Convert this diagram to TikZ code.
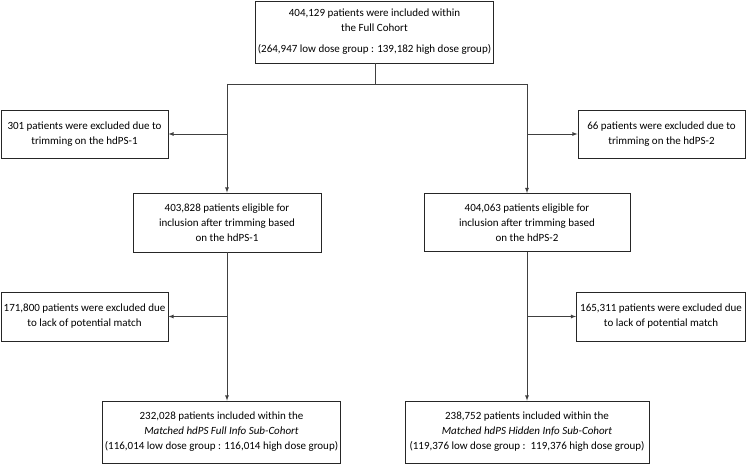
\documentclass[tikz,border=0pt]{standalone}
\usepackage{fontspec}
\setmainfont{Carlito}
\usetikzlibrary{arrows}

\tikzset{
	flowbox/.style={draw=black!85,line width=0.8pt,align=center,inner sep=2pt,
		font=\fontsize{11}{15}\selectfont},
	flowline/.style={draw=black!75,line width=0.8pt},
	flowarrow/.style={flowline,-latex}
}

\begin{document}
\begin{tikzpicture}[x=1pt,y=-1pt]
	\useasboundingbox (0,0) rectangle (746,465);

	% boxes
	\node[flowbox,minimum width=229pt,minimum height=62pt] (full) at (374.5,32)
		{404,129 patients were included within\\ the Full Cohort\\[6pt]
		(264,947 low dose group : 139,182 high dose group)};

	\node[flowbox,minimum width=167pt,minimum height=48pt] (trim1) at (84.5,134)
		{301 patients were excluded due to\\ trimming on the hdPS-1};
	\node[flowbox,minimum width=167pt,minimum height=48pt] (trim2) at (661.5,134)
		{66 patients were excluded due to\\ trimming on the hdPS-2};

	\node[flowbox,minimum width=188pt,minimum height=59pt] (elig1) at (227,222.5)
		{403,828 patients eligible for\\ inclusion after trimming based\\ on the hdPS-1};
	\node[flowbox,minimum width=206pt,minimum height=58pt] (elig2) at (527,222.5)
		{404,063 patients eligible for\\ inclusion after trimming based\\ on the hdPS-2};

	\node[flowbox,minimum width=167pt,minimum height=49pt] (lack1) at (84.5,316.5)
		{171,800 patients were excluded due\\ to lack of potential match};
	\node[flowbox,minimum width=169pt,minimum height=49pt] (lack2) at (661,316.5)
		{165,311 patients were excluded due\\ to lack of potential match};

	\node[flowbox,minimum width=235pt,minimum height=62pt] (match1) at (221.5,432)
		{232,028 patients included within the\\ \textit{Matched hdPS Full Info Sub-Cohort}\\
		(116,014 low dose group : 116,014 high dose group)};
	\node[flowbox,minimum width=244pt,minimum height=62pt] (match2) at (527,432)
		{238,752 patients included within the\\ \textit{Matched hdPS Hidden Info Sub-Cohort}\\
		(119,376 low dose group :\ \ 119,376 high dose group)};

	% split below the full cohort
	\coordinate (split) at (375,84);
	\coordinate (splitL) at (elig1.north |- split);
	\coordinate (splitR) at (elig2.north |- split);

	\draw[flowline] (full.south -| split) -- (split);
	\draw[flowline] (splitL) -- (splitR);
	\draw[flowarrow] (splitL) -- (elig1.north);
	\draw[flowarrow] (splitR) -- (elig2.north);
	\draw[flowarrow] (splitL |- trim1.east) -- (trim1.east);
	\draw[flowarrow] (splitR |- trim2.west) -- (trim2.west);

	% matching
	\draw[flowarrow] (elig1.south) -- (elig1.south |- match1.north);
	\draw[flowarrow] (elig2.south) -- (match2.north);
	\draw[flowarrow] (elig1.south |- lack1.east) -- (lack1.east);
	\draw[flowarrow] (elig2.south |- lack2.west) -- (lack2.west);
\end{tikzpicture}
\end{document}
